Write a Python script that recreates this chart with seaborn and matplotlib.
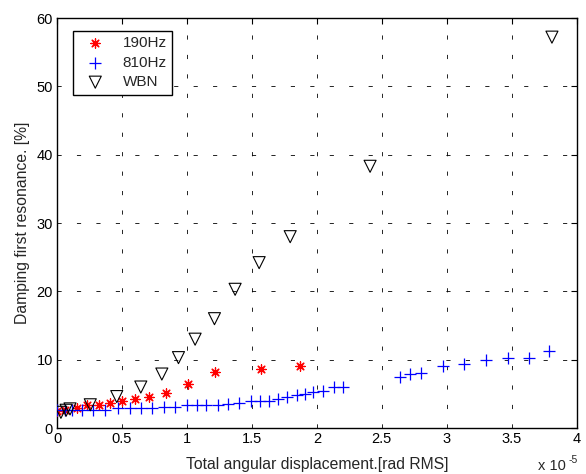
import numpy as np
import pandas as pd
import matplotlib
matplotlib.use("Agg")
import matplotlib.pyplot as plt
import seaborn as sns

# datos (x en unidades de 1e-5 rad RMS)
x_190 = [0.0, 0.064, 0.154, 0.23, 0.32, 0.41, 0.50, 0.60, 0.71, 0.84, 1.01, 1.22, 1.57, 1.87]
y_190 = [2.5, 2.6, 3.0, 3.3, 3.4, 3.6, 3.9, 4.2, 4.5, 5.1, 6.4, 8.2, 8.7, 9.1]

x_810 = [0.0, 0.064, 0.115, 0.19, 0.28, 0.37, 0.47, 0.56, 0.65, 0.73, 0.82, 0.91,
         1.0, 1.08, 1.15, 1.24, 1.32, 1.40, 1.49, 1.56, 1.63, 1.70, 1.77, 1.85,
         1.91, 1.97, 2.05, 2.13, 2.20,
         2.64, 2.72, 2.80, 2.97, 3.13, 3.30, 3.47, 3.63, 3.79]
y_810 = [2.6, 2.6, 2.6, 2.7, 2.7, 2.7, 2.9, 2.9, 2.9, 2.9, 3.1, 3.1,
         3.3, 3.3, 3.3, 3.3, 3.5, 3.7, 3.9, 3.9, 3.9, 4.3, 4.6, 4.8,
         5.0, 5.2, 5.4, 6.0, 6.0,
         7.5, 7.9, 8.1, 9.1, 9.3, 10.0, 10.2, 10.3, 11.2]

x_wbn = [0.03, 0.07, 0.10, 0.256, 0.46, 0.645, 0.807, 0.935, 1.063, 1.212, 1.371, 1.556, 1.795, 2.41, 3.81]
y_wbn = [2.3, 2.6, 2.8, 3.4, 4.6, 6.0, 7.9, 10.3, 13.0, 16.0, 20.3, 24.2, 28.0, 38.3, 57.2]

sns.set_style("white")
plt.rcParams['font.family'] = ['Liberation Sans', 'DejaVu Sans']
plt.rcParams['lines.scale_dashes'] = False

fig = plt.figure(figsize=(5.86, 4.74), dpi=100)
ax = fig.add_axes([0.0973, 0.097, 0.8867, 0.865])

sns.scatterplot(x=x_190, y=y_190, ax=ax, marker=(8, 2, 0), s=45, color='red',
                linewidth=0.9, label='190Hz', zorder=3)
sns.scatterplot(x=x_810, y=y_810, ax=ax, marker='+', s=70, color='blue',
                linewidth=0.9, label='810Hz', zorder=3)
sns.scatterplot(x=x_wbn, y=y_wbn, ax=ax, marker='v', s=75, color='k',
                facecolor='none', edgecolor='k', linewidth=0.8, label='WBN', zorder=3)

ax.set_xlim(0, 4)
ax.set_ylim(0, 60)
ax.set_xticks(np.arange(0, 4.01, 0.5))
ax.set_xticklabels(['0', '0.5', '1', '1.5', '2', '2.5', '3', '3.5', '4'])
ax.set_yticks(np.arange(0, 61, 10))

ax.grid(True, color='k', linewidth=0.6, linestyle=(0, (3, 11)))
ax.tick_params(direction='in', length=4, width=0.8, top=True, right=True,
               labelsize=10.5, pad=3, colors='k')
for s in ax.spines.values():
    s.set_visible(True)
    s.set_color('k')
    s.set_linewidth(1.0)

ax.set_xlabel('Total angular displacement.[rad RMS]', fontsize=11.3, labelpad=8)
ax.set_ylabel('Damping first resonance. [%]', fontsize=11.3, labelpad=5)

leg = ax.legend(loc='upper left', bbox_to_anchor=(0.031, 0.968), borderaxespad=0,
                fontsize=11, fancybox=False, framealpha=1, edgecolor='k',
                borderpad=0.35, handletextpad=0.7, labelspacing=0.35, handlelength=2.2)
leg.get_frame().set_linewidth(1.0)

fig.text(0.918, 0.003, 'x 10', fontsize=10.5, va='bottom', ha='left')
fig.text(0.970, 0.018, '-5', fontsize=7.5, va='bottom', ha='left')

fig.savefig('out.png', dpi=100)
